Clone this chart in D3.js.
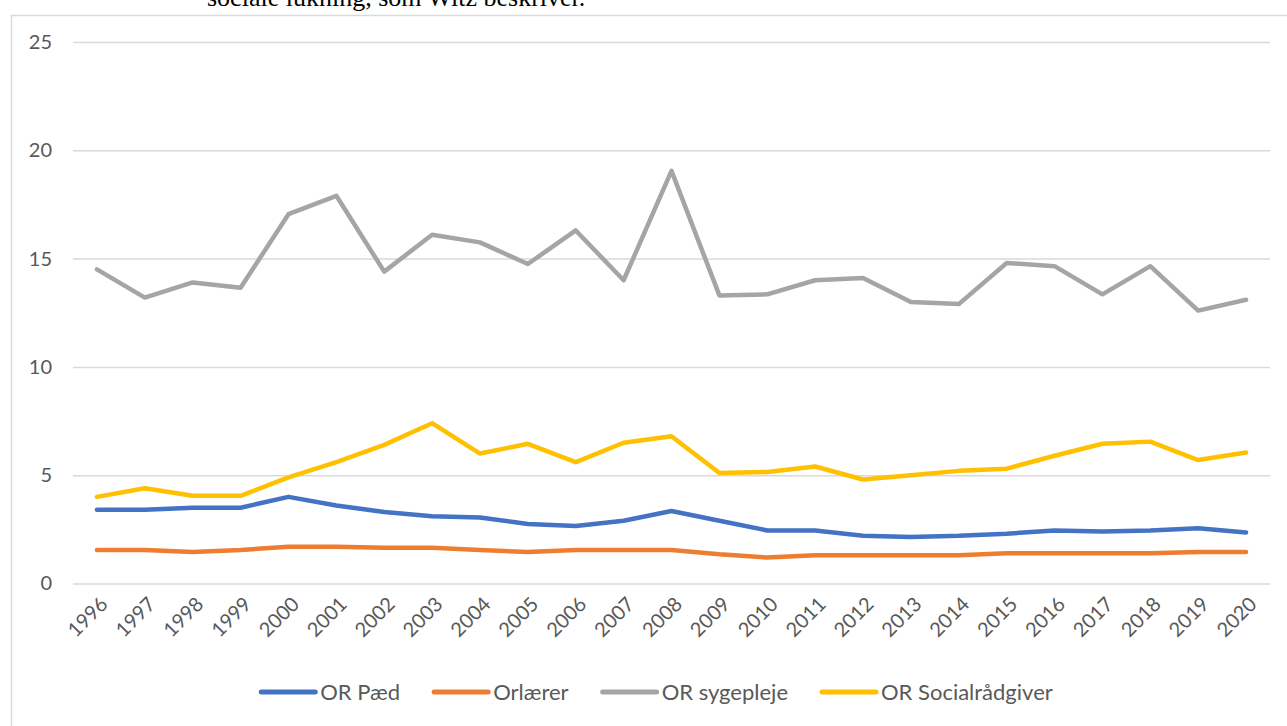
<!DOCTYPE html>
<html>
<head>
<meta charset="utf-8">
<script src="https://cdn.jsdelivr.net/npm/d3@7"></script>
<style>
	body { margin: 0; background: #fff; overflow: hidden; }
	svg { display: block; }
</style>
</head>
<body>
<div id="chart"></div>
<script>
const years = ['1996', '1997', '1998', '1999', '2000', '2001', '2002', '2003', '2004', '2005', '2006', '2007', '2008',
	'2009', '2010', '2011', '2012', '2013', '2014', '2015', '2016', '2017', '2018', '2019', '2020'];

const orPaed = [3.4, 3.4, 3.5, 3.5, 4.0, 3.6, 3.3, 3.1, 3.05, 2.75, 2.65, 2.9, 3.35,
	2.9, 2.45, 2.45, 2.2, 2.15, 2.2, 2.3, 2.45, 2.4, 2.45, 2.55, 2.35];
const orLaerer = [1.55, 1.55, 1.45, 1.55, 1.7, 1.7, 1.65, 1.65, 1.55, 1.45, 1.55, 1.55, 1.55,
	1.35, 1.2, 1.3, 1.3, 1.3, 1.3, 1.4, 1.4, 1.4, 1.4, 1.45, 1.45];
const orSygepleje = [14.5, 13.2, 13.9, 13.65, 17.05, 17.9, 14.4, 16.1, 15.75, 14.75, 16.3, 14.0, 19.05,
	13.3, 13.35, 14.0, 14.1, 13.0, 12.9, 14.8, 14.65, 13.35, 14.65, 12.6, 13.1];
const orSocial = [4.0, 4.4, 4.05, 4.05, 4.9, 5.6, 6.4, 7.4, 6.0, 6.45, 5.6, 6.5, 6.8,
	5.1, 5.15, 5.4, 4.8, 5.0, 5.2, 5.3, 5.9, 6.45, 6.55, 5.7, 6.05];

const seriesNames = ['OR Pæd', 'Orlærer', 'OR sygepleje', 'OR Socialrådgiver'];
const seriesColors = ['#4472C4', '#ED7D31', '#A5A5A5', '#FFC000'];
const yTicks = [0, 5, 10, 15, 20, 25];

const series = [orPaed, orLaerer, orSygepleje, orSocial].map((values, i) => ({
	name: seriesNames[i],
	color: seriesColors[i],
	values: values
}));

const width = 1287;
const height = 726;
const plot = { left: 73, right: 1270, top: 42, bottom: 583.5 };
const font = 'Lato, "Open Sans", sans-serif';

const svg = d3.select('#chart')
	.append('svg')
	.attr('width', width)
	.attr('height', height);

// bit of document text cut off above the chart
svg.append('text')
	.attr('x', 207)
	.attr('y', 6)
	.attr('font-family', '"Liberation Serif", "Times New Roman", serif')
	.attr('font-size', 26)
	.attr('fill', '#000')
	.text('sociale lukning, som Witz beskriver.');

// chart frame
svg.append('rect')
	.attr('x', 11.5)
	.attr('y', 15.5)
	.attr('width', width + 20)
	.attr('height', height + 20)
	.attr('fill', 'none')
	.attr('stroke', '#d9d9d9')
	.attr('stroke-width', 1.5);

const x = d3.scaleBand()
	.domain(years)
	.range([plot.left, plot.right]);

const y = d3.scaleLinear()
	.domain([0, 25])
	.range([plot.bottom, plot.top]);

const cx = (d) => x(d) + x.bandwidth() / 2;

const yAxis = svg.append('g')
	.attr('transform', `translate(${plot.left},0)`)
	.call(
		d3.axisLeft(y)
			.tickValues(yTicks)
			.tickSizeInner(-(plot.right - plot.left))
			.tickSizeOuter(0)
			.tickPadding(21)
	);

yAxis.select('.domain').remove();
yAxis.selectAll('.tick line')
	.attr('stroke', '#d9d9d9')
	.attr('stroke-width', 1.5);
yAxis.selectAll('.tick text')
	.attr('font-family', font)
	.attr('font-size', 20)
	.attr('fill', '#595959');

const xAxis = svg.append('g')
	.attr('transform', `translate(0,${plot.bottom})`)
	.call(d3.axisBottom(x).tickSize(0).tickPadding(0));

xAxis.select('.domain').remove();
xAxis.selectAll('.tick text')
	.attr('font-family', font)
	.attr('font-size', 20)
	.attr('fill', '#595959')
	.attr('text-anchor', 'end')
	.attr('dy', '0.35em')
	.attr('transform', 'translate(7,17) rotate(-45)');

const line = d3.line()
	.x((d, i) => cx(years[i]))
	.y((d) => y(d))
	.curve(d3.curveLinear);

svg.append('g')
	.selectAll('path')
	.data(series)
	.join('path')
	.attr('d', (d) => line(d.values))
	.attr('fill', 'none')
	.attr('stroke', (d) => d.color)
	.attr('stroke-width', 4.5)
	.attr('stroke-linejoin', 'round')
	.attr('stroke-linecap', 'round');

// legend, centred under the plot
const legend = svg.append('g')
	.attr('transform', 'translate(0,692)');

const items = legend.selectAll('g')
	.data(series)
	.join('g');

items.append('line')
	.attr('x1', 0)
	.attr('x2', 54)
	.attr('stroke', (d) => d.color)
	.attr('stroke-width', 5)
	.attr('stroke-linecap', 'round');

items.append('text')
	.attr('x', 59)
	.attr('dy', '0.35em')
	.attr('font-family', font)
	.attr('font-size', 22)
	.attr('fill', '#595959')
	.text((d) => d.name);

let offset = 0;
const offsets = [];
items.each(function () {
	const w = 59 + this.querySelector('text').getComputedTextLength();
	offsets.push(offset);
	offset += w + 34;
});
const legendWidth = offset - 34;
const legendStart = 657 - legendWidth / 2;

items.attr('transform', (d, i) => `translate(${legendStart + offsets[i]},0)`);
</script>
</body>
</html>
